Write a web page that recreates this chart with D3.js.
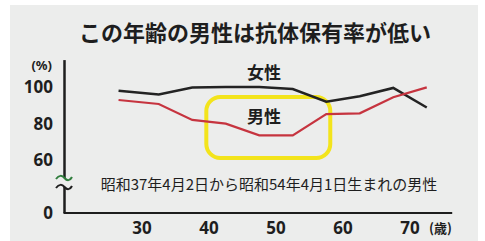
<!DOCTYPE html>
<html lang="ja">
  <head>
    <meta charset="utf-8" />
    <title>この年齢の男性は抗体保有率が低い</title>
    <style>
      html,
      body {
        margin: 0;
        padding: 0;
        background: #fff;
      }
      svg {
        display: block;
        font-family: 'Noto Sans CJK JP', 'Noto Sans', sans-serif;
      }
      .num {
        font-family: 'Noto Sans', sans-serif;
      }
    </style>
  </head>
  <body>
    <div id="chart"></div>

    <script src="https://cdn.jsdelivr.net/npm/d3@7"></script>
    <script type="text/javascript">
      // Data (age group midpoints, % with antibodies)
      const ages = [26.5, 32.5, 37.5, 42.5, 47.5, 52.5, 57.5, 62.5, 67.5, 72.5]
      const women = [98, 95.9, 99.7, 100, 100, 98.9, 92, 95, 99.5, 88.8]
      const men = [92.9, 90.7, 82, 80, 73.6, 73.6, 85.2, 85.6, 94.4, 99.8]
      const xTicks = [30, 40, 50, 60, 70]
      const yTicks = [0, 60, 80, 100]
      const highlightAges = [39.6, 58.1]
      const highlightPct = [61.2, 94.5]

      const W = 485,
        H = 241

      const svg = d3.select('#chart').append('svg').attr('width', W).attr('height', H)

      // panel background
      svg.append('rect').attr('x', 10).attr('y', 5).attr('width', 468).attr('height', 236).attr('fill', '#ecedec')

      // title
      svg
        .append('text')
        .attr('x', 255)
        .attr('y', 41)
        .attr('text-anchor', 'middle')
        .attr('font-size', 22)
        .attr('font-weight', 'bold')
        .attr('fill', '#1e1e1e')
        .text('この年齢の男性は抗体保有率が低い')

      // Scales (y axis is broken between 0 and 60)
      const x = d3.scaleLinear().domain([30, 70]).range([142, 410])
      const y = d3.scaleLinear().domain([0, 50, 100]).range([213, 178.5, 87])

      const axisX = 64.5

      // Y axis with break marks
      const axisG = svg.append('g').attr('stroke', '#1e1e1e').attr('stroke-width', 2.5).attr('fill', 'none')
      axisG.append('line').attr('x1', axisX).attr('x2', axisX).attr('y1', y(114.7)).attr('y2', 178)
      axisG.append('line').attr('x1', axisX).attr('x2', axisX).attr('y1', 187).attr('y2', 213)

      const wave = (cy) => `M56,${cy + 1} C59,${cy - 3} 62,${cy - 3} 64.5,${cy} S70,${cy + 3} 72,${cy - 1}`
      svg.append('path').attr('d', wave(178)).attr('stroke', '#2f7d3c').attr('stroke-width', 2).attr('fill', 'none')
      svg.append('path').attr('d', wave(187)).attr('stroke', '#1e1e1e').attr('stroke-width', 2).attr('fill', 'none')

      // X axis line
      svg
        .append('line')
        .attr('x1', axisX - 1)
        .attr('x2', x(76.3))
        .attr('y1', 213)
        .attr('y2', 213)
        .attr('stroke', '#1e1e1e')
        .attr('stroke-width', 2.2)

      // Y tick labels
      svg
        .append('g')
        .selectAll('text')
        .data(yTicks)
        .enter()
        .append('text')
        .attr('class', 'num')
        .attr('x', 53)
        .attr('y', (d) => y(d))
        .attr('dy', '0.36em')
        .attr('text-anchor', 'end')
        .attr('font-size', 17)
        .attr('font-weight', 'bold')
        .attr('fill', '#1e1e1e')
        .text((d) => d)

      svg
        .append('text')
        .attr('class', 'num')
        .attr('x', 52)
        .attr('y', 70)
        .attr('text-anchor', 'end')
        .attr('font-size', 13)
        .attr('font-weight', 'bold')
        .attr('fill', '#1e1e1e')
        .text('(%)')

      // X tick labels
      svg
        .append('g')
        .selectAll('text')
        .data(xTicks)
        .enter()
        .append('text')
        .attr('class', 'num')
        .attr('x', (d) => x(d))
        .attr('y', 234)
        .attr('text-anchor', 'middle')
        .attr('font-size', 17)
        .attr('font-weight', 'bold')
        .attr('fill', '#1e1e1e')
        .text((d) => d)

      svg
        .append('text')
        .attr('x', 429)
        .attr('y', 233)
        .attr('font-size', 13)
        .attr('font-weight', 'bold')
        .attr('fill', '#1e1e1e')
        .text('(歳)')

      // highlight box
      svg
        .append('rect')
        .attr('x', x(highlightAges[0]))
        .attr('y', y(highlightPct[1]))
        .attr('width', x(highlightAges[1]) - x(highlightAges[0]))
        .attr('height', y(highlightPct[0]) - y(highlightPct[1]))
        .attr('rx', 14)
        .attr('fill', 'none')
        .attr('stroke', '#f3e41c')
        .attr('stroke-width', 4)

      // lines
      const line = d3
        .line()
        .x((d, i) => x(ages[i]))
        .y((d) => y(d))

      svg
        .append('path')
        .datum(women)
        .attr('d', line)
        .attr('fill', 'none')
        .attr('stroke', '#232323')
        .attr('stroke-width', 2.5)

      svg
        .append('path')
        .datum(men)
        .attr('d', line)
        .attr('fill', 'none')
        .attr('stroke', '#c6343f')
        .attr('stroke-width', 2.2)

      // labels
      svg
        .append('text')
        .attr('x', 264)
        .attr('y', 79)
        .attr('text-anchor', 'middle')
        .attr('font-size', 17)
        .attr('font-weight', 'bold')
        .attr('fill', '#1e1e1e')
        .text('女性')

      svg
        .append('text')
        .attr('x', 264)
        .attr('y', 123)
        .attr('text-anchor', 'middle')
        .attr('font-size', 17)
        .attr('font-weight', 'bold')
        .attr('fill', '#1e1e1e')
        .text('男性')

      svg
        .append('text')
        .attr('x', 269)
        .attr('y', 190)
        .attr('text-anchor', 'middle')
        .attr('font-size', 15)
        .attr('fill', '#1e1e1e')
        .text('昭和37年4月2日から昭和54年4月1日生まれの男性')
    </script>
  </body>
</html>
